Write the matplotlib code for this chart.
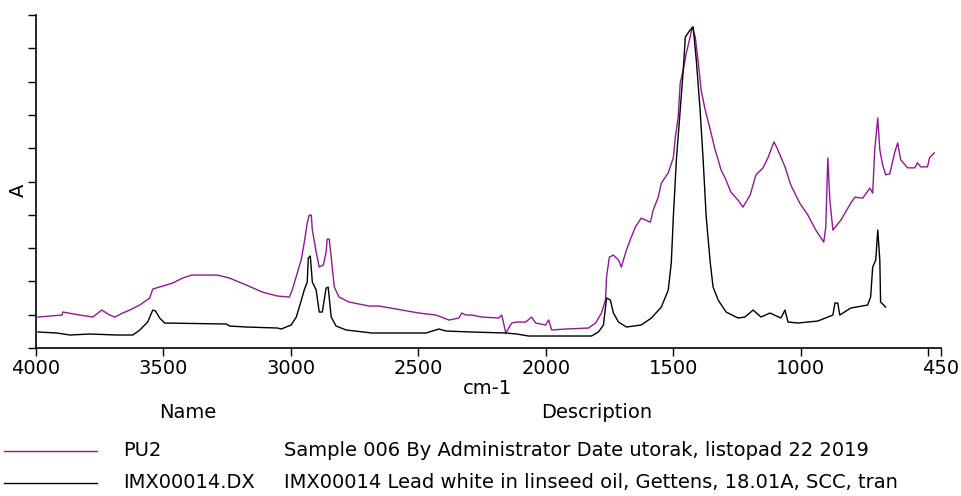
import matplotlib
matplotlib.use("Agg")
import matplotlib.pyplot as plt

# PU2 spectrum (wavenumber cm-1, absorbance)
pu2_wn = [3992, 3945, 3898, 3895, 3828, 3777, 3742, 3711, 3691, 3660, 3632, 3593, 3554,
          3542, 3503, 3464, 3425, 3390, 3288, 3241, 3175, 3112, 3053, 3006, 2995, 2975,
          2960, 2948, 2936, 2928, 2920, 2916, 2901, 2889, 2873, 2862, 2858, 2850, 2842,
          2830, 2811, 2772, 2693, 2654, 2564, 2498, 2431, 2380, 2341, 2330, 2314, 2290,
          2251, 2185, 2173, 2157, 2134, 2114, 2079, 2056, 2040, 2001, 1989, 1977, 1923,
          1833, 1805, 1782, 1766, 1762, 1751, 1735, 1715, 1704, 1684, 1665, 1649, 1626,
          1590, 1579, 1559, 1547, 1520, 1500, 1492, 1481, 1473, 1461, 1449, 1434, 1426,
          1414, 1402, 1391, 1375, 1355, 1336, 1324, 1313, 1297, 1274, 1246, 1227, 1199,
          1176, 1148, 1129, 1105, 1090, 1062, 1039, 1004, 972, 941, 910, 902, 894, 886,
          874, 843, 804, 788, 757, 729, 718, 710, 698, 690, 679, 667, 651, 632, 620, 608,
          581, 553, 542, 530, 503, 495, 476]
pu2_abs = [0.093, 0.096, 0.099, 0.108, 0.099, 0.093, 0.114, 0.099, 0.093, 0.105, 0.114,
           0.129, 0.150, 0.177, 0.186, 0.195, 0.210, 0.219, 0.219, 0.210, 0.189, 0.168,
           0.156, 0.153, 0.174, 0.225, 0.264, 0.315, 0.375, 0.399, 0.399, 0.354, 0.288,
           0.243, 0.249, 0.288, 0.327, 0.327, 0.273, 0.183, 0.153, 0.138, 0.126, 0.126,
           0.114, 0.105, 0.099, 0.084, 0.090, 0.105, 0.099, 0.099, 0.093, 0.090, 0.099,
           0.045, 0.075, 0.078, 0.078, 0.093, 0.075, 0.069, 0.084, 0.054, 0.057, 0.060,
           0.075, 0.105, 0.144, 0.213, 0.273, 0.279, 0.264, 0.243, 0.294, 0.333, 0.363,
           0.390, 0.378, 0.414, 0.453, 0.495, 0.526, 0.571, 0.634, 0.694, 0.796, 0.835,
           0.886, 0.934, 0.964, 0.934, 0.856, 0.775, 0.715, 0.655, 0.595, 0.565, 0.535,
           0.511, 0.468, 0.444, 0.423, 0.459, 0.520, 0.541, 0.571, 0.619, 0.595, 0.544,
           0.489, 0.435, 0.399, 0.354, 0.318, 0.363, 0.571, 0.444, 0.354, 0.384, 0.435,
           0.453, 0.450, 0.480, 0.465, 0.595, 0.691, 0.595, 0.550, 0.520, 0.523, 0.586,
           0.616, 0.565, 0.541, 0.541, 0.556, 0.544, 0.544, 0.571, 0.586]

# IMX00014 reference spectrum
imx_wn = [3992, 3918, 3867, 3789, 3683, 3620, 3593, 3562, 3542, 3531, 3515, 3495, 3253,
          3241, 3175, 3053, 3038, 2999, 2979, 2959, 2948, 2936, 2932, 2924, 2916, 2901,
          2889, 2877, 2862, 2854, 2842, 2823, 2783, 2682, 2470, 2420, 2392, 2291, 2157,
          2114, 2068, 1821, 1794, 1774, 1762, 1747, 1735, 1715, 1684, 1626, 1586, 1547,
          1520, 1508, 1500, 1488, 1473, 1461, 1453, 1434, 1422, 1410, 1395, 1383, 1371,
          1355, 1344, 1324, 1293, 1246, 1219, 1187, 1156, 1121, 1078, 1062, 1050, 1011,
          933, 874, 866, 855, 847, 804, 738, 726, 718, 706, 698, 690, 687, 667]
imx_abs = [0.048, 0.045, 0.039, 0.042, 0.039, 0.039, 0.054, 0.078, 0.114, 0.111, 0.090,
           0.075, 0.072, 0.066, 0.063, 0.060, 0.057, 0.069, 0.093, 0.144, 0.174, 0.198,
           0.270, 0.276, 0.198, 0.174, 0.108, 0.108, 0.180, 0.183, 0.093, 0.066, 0.054,
           0.045, 0.045, 0.057, 0.051, 0.048, 0.045, 0.042, 0.036, 0.036, 0.048, 0.069,
           0.150, 0.144, 0.105, 0.078, 0.063, 0.069, 0.090, 0.123, 0.174, 0.255, 0.393,
           0.565, 0.715, 0.835, 0.934, 0.955, 0.964, 0.865, 0.715, 0.565, 0.393, 0.255,
           0.183, 0.144, 0.108, 0.090, 0.093, 0.114, 0.093, 0.105, 0.090, 0.114, 0.078,
           0.075, 0.081, 0.099, 0.135, 0.135, 0.099, 0.120, 0.129, 0.153, 0.243, 0.264,
           0.354, 0.264, 0.138, 0.123]

x_ticks = [4000, 3500, 3000, 2500, 2000, 1500, 1000, 500, 450]
x_tick_labels = ["4000", "3500", "3000", "2500", "2000", "1500", "1000", "", "450"]
y_ticks = [i / 10 for i in range(11)]

names = ["PU2", "IMX00014.DX"]
descriptions = ["Sample 006 By Administrator Date utorak, listopad 22 2019",
                "IMX00014 Lead white in linseed oil, Gettens, 18.01A, SCC, tran"]
colors = ["#8c1a94", "#000000"]

W, H = 961, 496
fs = 14

fig = plt.figure(figsize=(W / 100, H / 100), dpi=100)
ax = fig.add_axes([36 / W, 1 - 348 / H, (941 - 36) / W, (348 - 15) / H])

ax.plot(pu2_wn, pu2_abs, color=colors[0], lw=1.0)
ax.plot(imx_wn, imx_abs, color=colors[1], lw=1.0)

ax.set_xlim(4000, 450)
ax.set_ylim(0, 1)
ax.set_xticks(x_ticks)
ax.set_xticklabels(x_tick_labels)
ax.set_yticks(y_ticks)
ax.set_yticklabels([])
ax.tick_params(axis="x", direction="out", length=6, width=1, labelsize=fs, pad=2)
ax.tick_params(axis="y", direction="out", length=6, width=1)
for side in ("top", "right"):
    ax.spines[side].set_visible(False)
for side in ("left", "bottom"):
    ax.spines[side].set_linewidth(1.2)


def ftext(x, y, s, **kw):
    fig.text(x / W, 1 - y / H, s, fontsize=fs, va="center", **kw)


ftext(18, 190, "A", rotation=90, ha="center")
ftext(487, 388, "cm-1", ha="center")
ftext(188, 412, "Name", ha="center")
ftext(541, 412, "Description", ha="left")

rows_y = [451, 483]
for name, desc, c, y in zip(names, descriptions, colors, rows_y):
    fig.add_artist(plt.Line2D([4 / W, 97 / W], [1 - y / H, 1 - y / H],
                              color=c, lw=1.0, transform=fig.transFigure))
    ftext(123, y, name, ha="left")
    ftext(284, y, desc, ha="left")

fig.savefig("out.png", dpi=100)
